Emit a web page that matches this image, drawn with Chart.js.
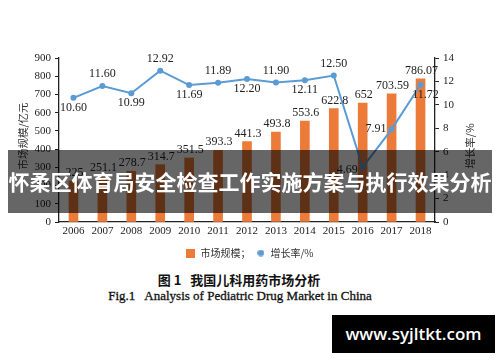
<!DOCTYPE html>
<html>
<head>
<meta charset="utf-8">
<script src="https://cdn.jsdelivr.net/npm/chart.js@4.4.0/dist/chart.umd.min.js"></script>
<style>
  html, body { margin: 0; padding: 0; background: #fff; }
  body { width: 500px; height: 362px; position: relative; overflow: hidden; }
  #wrap { position: absolute; left: 0; top: 0; width: 500px; height: 268px; }
  .cap1 { position: absolute; left: 0; width: 478px; top: 270px; text-align: center;
          font: bold 13px "Noto Sans CJK SC", sans-serif; color: #111; white-space: pre; }
  .cap2 { position: absolute; left: 0; width: 480px; top: 288px; text-align: center;
          font: 13px "Liberation Serif", serif; color: #111; white-space: pre; -webkit-text-stroke: 0.3px #111; }
  .banner { position: absolute; left: 8px; top: 150px; width: 484px; height: 63px;
            background: rgba(0,0,0,0.6); color: #fff; text-align: center;
            font: bold 21px "Noto Sans CJK SC", sans-serif; line-height: 63px; white-space: nowrap; }
  .wm { position: absolute; left: 332px; top: 315px; width: 163px; height: 38px; background: #000;
        color: #fff; text-align: center; font: 600 17px "Open Sans", sans-serif; line-height: 38px; }
</style>
</head>
<body>
<div id="wrap"><canvas id="c" width="500" height="268"></canvas></div>
<div class="cap1">图 1   我国儿科用药市场分析</div>
<div class="cap2">Fig.1   Analysis of Pediatric Drug Market in China</div>
<div class="banner">怀柔区体育局安全检查工作实施方案与执行效果分析</div>
<div class="wm">www.syjltkt.com</div>
<script>
const years = ['2006','2007','2008','2009','2010','2011','2012','2013','2014','2015','2016','2017','2018'];
const marketSize = [225, 251.1, 278.7, 314.7, 351.5, 393.3, 441.3, 493.8, 553.6, 622.8, 652, 703.59, 786.07];
const marketLabels = ['225','251.1','278.7','314.7','351.5','393.3','441.3','493.8','553.6','622.8','652','703.59','786.07'];
const growthRate = [10.60, 11.60, 10.99, 12.92, 11.69, 11.89, 12.20, 11.90, 12.11, 12.50, 4.69, 7.91, 11.72];
const growthLabels = ['10.60','11.60','10.99','12.92','11.69','11.89','12.20','11.90','12.11','12.50','4.69','7.91','11.72'];
const growthLabelSide = ['below','above','below','above','below','above','below','above','below','above','left','left','below'];
const seriesNames = ['市场规模；', '增长率/%'];
const leftTitle = '市场规模/亿元';
const rightTitle = '增长率/%';

const ORANGE = '#EC7B3A';
const BLUE = '#5B9BD5';
const INK = '#222';

function makeIcon(kind) {
  const cv = document.createElement('canvas');
  if (kind === 'rect') {
    cv.width = 9; cv.height = 9;
    const g = cv.getContext('2d'); g.fillStyle = ORANGE; g.fillRect(0, 0, 9, 9);
  } else {
    cv.width = 7; cv.height = 7;
    const g = cv.getContext('2d'); g.fillStyle = BLUE; g.beginPath(); g.arc(3.5, 3.5, 3.3, 0, Math.PI * 2); g.fill();
  }
  return cv;
}
const icons = [makeIcon('rect'), makeIcon('dot')];

const labelPlugin = {
  id: 'valueLabels',
  afterDatasetsDraw(chart) {
    const ctx = chart.ctx;
    ctx.save();
    ctx.fillStyle = INK;
    ctx.font = '12px "Liberation Serif", serif';
    const bars = chart.getDatasetMeta(0).data;
    ctx.textAlign = 'center'; ctx.textBaseline = 'bottom';
    bars.forEach((b, i) => ctx.fillText(marketLabels[i], b.x + 1, b.y - 2));
    const pts = chart.getDatasetMeta(1).data;
    pts.forEach((p, i) => {
      const side = growthLabelSide[i];
      if (side === 'above') { ctx.textAlign = 'center'; ctx.textBaseline = 'bottom'; ctx.fillText(growthLabels[i], p.x, p.y - 6); }
      else if (side === 'below') { ctx.textAlign = 'center'; ctx.textBaseline = 'top'; ctx.fillText(growthLabels[i], p.x + (i === 12 ? 5 : 0), p.y + 4); }
      else { ctx.textAlign = 'right'; ctx.textBaseline = 'middle'; ctx.fillText(growthLabels[i], p.x - 5, p.y + (i === 10 ? 3 : 0)); }
    });
    ctx.restore();
  },
  afterDraw(chart) {
    const ctx = chart.ctx, a = chart.chartArea;
    ctx.save();
    ctx.fillStyle = '#333';
    ctx.font = '10.5px "Noto Sans CJK SC", sans-serif';
    ctx.textAlign = 'center'; ctx.textBaseline = 'middle';
    ctx.translate(23, (a.top + a.bottom) / 2 - 4);
    ctx.rotate(-Math.PI / 2);
    ctx.fillText(leftTitle, 0, 0);
    ctx.restore();
    ctx.save();
    ctx.fillStyle = '#333';
    ctx.font = '10.5px "Noto Sans CJK SC", sans-serif';
    ctx.textAlign = 'center'; ctx.textBaseline = 'middle';
    ctx.translate(a.right + 35, (a.top + a.bottom) / 2 + 6);
    ctx.rotate(-Math.PI / 2);
    ctx.fillText(rightTitle, 0, 0);
    ctx.restore();
  }
};

new Chart(document.getElementById('c'), {
  data: {
    labels: years,
    datasets: [
      { type: 'bar', label: seriesNames[0], data: marketSize, backgroundColor: ORANGE, barThickness: 9, yAxisID: 'y', order: 2 },
      { type: 'line', label: seriesNames[1], data: growthRate, borderColor: BLUE, backgroundColor: BLUE, borderWidth: 2,
        pointRadius: 3, pointBackgroundColor: BLUE, pointBorderWidth: 0, tension: 0, yAxisID: 'y1', order: 1 }
    ]
  },
  options: {
    responsive: false,
    animation: false,
    events: [],
    layout: { padding: { top: 58, left: 0, right: 0, bottom: 0 } },
    plugins: {
      tooltip: { enabled: false },
      legend: {
        position: 'bottom',
        labels: {
          usePointStyle: true,
          font: { family: '"Noto Sans CJK SC", sans-serif', size: 10 },
          color: '#333',
          padding: 6,
          boxWidth: 9,
          generateLabels(chart) {
            const items = Chart.defaults.plugins.legend.labels.generateLabels(chart);
            items.forEach(it => { it.pointStyle = icons[it.datasetIndex]; });
            return items;
          },
          sort(a, b) { return a.datasetIndex - b.datasetIndex; }
        }
      }
    },
    scales: {
      x: {
        offset: true,
        grid: { display: false, drawTicks: false },
        border: { display: true, color: INK, width: 1.3 },
        ticks: { color: INK, font: { family: '"Liberation Serif", serif', size: 11 }, padding: 3, maxRotation: 0 },
        afterFit(s) { s.height = 20; }
      },
      y: {
        position: 'left', min: 0, max: 900,
        ticks: { stepSize: 100, color: INK, font: { family: '"Liberation Serif", serif', size: 11 }, padding: 4 },
        grid: { drawOnChartArea: false, drawTicks: true, tickLength: 4, color: INK },
        border: { display: true, color: INK, width: 1.3 },
        afterFit(s) { s.width = 59; }
      },
      y1: {
        position: 'right', min: 0, max: 14,
        ticks: { stepSize: 2, color: INK, font: { family: '"Liberation Serif", serif', size: 11 }, padding: 4 },
        grid: { drawOnChartArea: false, drawTicks: true, tickLength: 4, color: INK },
        border: { display: true, color: INK, width: 1.3 },
        afterFit(s) { s.width = 65; }
      }
    }
  },
  plugins: [labelPlugin]
});
</script>
</body>
</html>
